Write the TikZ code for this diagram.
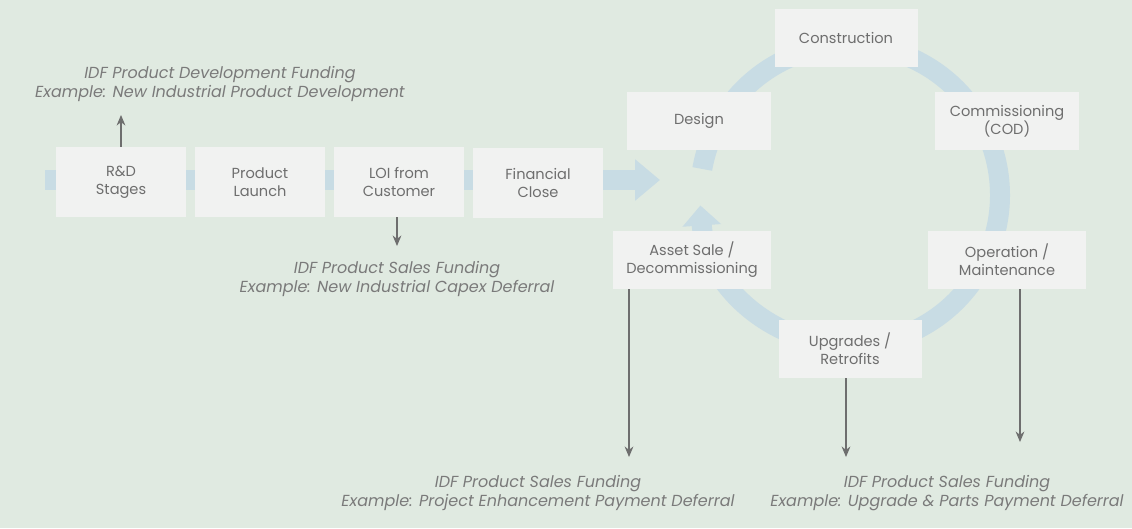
\documentclass[tikz,border=0pt]{standalone}
\usepackage{fontspec}
\setmainfont{Poppins}
\usetikzlibrary{arrows.meta}
\usetikzlibrary{positioning}
\definecolor{bg}{HTML}{E0EAE1}
\definecolor{boxfill}{HTML}{F1F2F1}
\definecolor{flow}{HTML}{C8DCE4}
\definecolor{txt}{HTML}{6E6E6E}
\definecolor{note}{HTML}{7A7A7A}
\tikzset{
  stage/.style={fill=boxfill, draw=none, minimum width=#1*0.02cm, minimum height=1.16cm,
    align=center, text=txt, font=\fontsize{8.3}{10.2}\selectfont},
  stage/.default=130,
  tall/.style={minimum height=1.4cm},
  note/.style={align=center, text=note, font=\fontsize{9.1}{10.8}\selectfont\itshape},
  pointer/.style={-{Stealth[length=6pt,width=5pt]}, draw=note!90!black, line width=0.6pt},
  flow/.style={draw=flow, line width=0.4cm}
}
\begin{document}
\begin{tikzpicture}[x=0.02cm,y=-0.02cm]
\useasboundingbox[fill=bg] (0,0) rectangle (1132,528);

% main flow and life cycle
\draw[flow, -{Triangle[length=0.5cm,width=0.8cm]}] (45,180) -- (660,180);
\draw[flow, {Triangle[length=0.4cm,width=0.75cm]}-] (850,195) ++(176:150) arc (176:-170:150);

% stages
\node[stage, tall] (rd)  at (121,182) {R\&D\\Stages};
\node[stage, tall] (launch) at (260,182) {Product\\Launch};
\node[stage, tall] (loi) at (399,182) {LOI from\\Customer};
\node[stage, tall] (close) at (538,183) {Financial\\Close};

% life cycle
\node[stage=144] (design) at (699,121) {Design};
\node[stage=143] (build) at (846,38) {Construction};
\node[stage=144] (cod) at (1007,121) {Commissioning\\(COD)};
\node[stage=158] (oper) at (1007,260) {Operation /\\Maintenance};
\node[stage=143] (upg) at (850,349) {Upgrades /\\Retrofits};
\node[stage=158] (asset) at (692,260) {Asset Sale /\\Decommissioning};

% funding notes
\node[note] (devnote) at (220,84) {IDF Product Development Funding\\Example: New Industrial Product Development};
\node[note] (salesnote) at (397,279) {IDF Product Sales Funding\\Example: New Industrial Capex Deferral};
\node[note] (enhnote) at (538,493) {IDF Product Sales Funding\\Example: Project Enhancement Payment Deferral};
\node[note] (partsnote) at (947,493) {IDF Product Sales Funding\\Example: Upgrade \& Parts Payment Deferral};

\coordinate (devend) at (121,115);
\coordinate (salesend) at (397,246);
\coordinate (enhend) at (629,457);
\coordinate (upgend) at (846,457);
\coordinate (operend) at (1020,442);
\draw[pointer] (rd.north) -- (devend);
\draw[pointer] (loi.south -| salesend) -- (salesend);
\draw[pointer] (asset.south -| enhend) -- (enhend);
\draw[pointer] (upg.south -| upgend) -- (upgend);
\draw[pointer] (oper.south -| operend) -- (operend);
\end{tikzpicture}
\end{document}
